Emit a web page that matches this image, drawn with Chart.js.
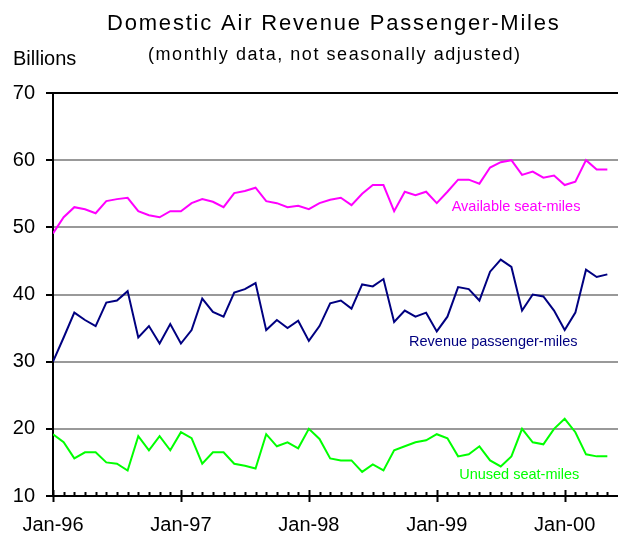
<!DOCTYPE html>
<html>
<head>
<meta charset="utf-8">
<title>Domestic Air Revenue Passenger-Miles</title>
<script src="https://cdn.jsdelivr.net/npm/chart.js@4.4.1/dist/chart.umd.min.js"></script>
<style>
    html, body { margin: 0; padding: 0; background: #fff; }
    #wrap { width: 618px; height: 537px; position: relative; }
</style>
</head>
<body>
<div id="wrap"><canvas id="rpmChart"></canvas></div>
<script>
// ─── Data (billions, monthly, Jan-96 .. May-00) ─────────────────────────────
const months = [
    'Jan-96', 'Feb-96', 'Mar-96', 'Apr-96', 'May-96', 'Jun-96', 'Jul-96', 'Aug-96', 'Sep-96', 'Oct-96', 'Nov-96', 'Dec-96',
    'Jan-97', 'Feb-97', 'Mar-97', 'Apr-97', 'May-97', 'Jun-97', 'Jul-97', 'Aug-97', 'Sep-97', 'Oct-97', 'Nov-97', 'Dec-97',
    'Jan-98', 'Feb-98', 'Mar-98', 'Apr-98', 'May-98', 'Jun-98', 'Jul-98', 'Aug-98', 'Sep-98', 'Oct-98', 'Nov-98', 'Dec-98',
    'Jan-99', 'Feb-99', 'Mar-99', 'Apr-99', 'May-99', 'Jun-99', 'Jul-99', 'Aug-99', 'Sep-99', 'Oct-99', 'Nov-99', 'Dec-99',
    'Jan-00', 'Feb-00', 'Mar-00', 'Apr-00', 'May-00'
];

const available = [
    49.1, 51.5, 53.0, 52.7, 52.1, 53.9, 54.2, 54.4, 52.4, 51.8, 51.5, 52.4,
    52.4, 53.6, 54.2, 53.8, 53.0, 55.1, 55.4, 55.9, 53.9, 53.6, 53.0, 53.2,
    52.7, 53.6, 54.1, 54.4, 53.3, 55.0, 56.3, 56.3, 52.4, 55.3, 54.8, 55.3,
    53.6, 55.3, 57.1, 57.1, 56.5, 58.9, 59.7, 60.0, 57.8, 58.3, 57.4, 57.7,
    56.3, 56.8, 60.0, 58.6, 58.6
];

const revenue = [
    30.0, 33.6, 37.3, 36.2, 35.3, 38.8, 39.1, 40.5, 33.6, 35.3, 32.7, 35.6,
    32.7, 34.7, 39.4, 37.4, 36.7, 40.3, 40.8, 41.7, 34.7, 36.2, 35.0, 36.1,
    33.1, 35.3, 38.7, 39.1, 37.9, 41.5, 41.2, 42.3, 35.9, 37.6, 36.7, 37.3,
    34.5, 36.7, 41.1, 40.8, 39.1, 43.4, 45.2, 44.1, 37.6, 40.0, 39.7, 37.6,
    34.7, 37.3, 43.7, 42.6, 43.0
];

const unused = [
    19.2, 18.0, 15.6, 16.5, 16.5, 15.0, 14.8, 13.8, 18.9, 16.8, 18.9, 16.8,
    19.5, 18.6, 14.8, 16.5, 16.5, 14.8, 14.5, 14.1, 19.2, 17.4, 18.0, 17.1,
    20.0, 18.5, 15.6, 15.3, 15.3, 13.6, 14.7, 13.8, 16.8, 17.4, 18.0, 18.3,
    19.2, 18.6, 15.9, 16.2, 17.4, 15.3, 14.4, 15.9, 20.0, 18.0, 17.7, 20.0,
    21.5, 19.5, 16.2, 15.9, 15.9
];

const xTickLabels = ['Jan-96', 'Jan-97', 'Jan-98', 'Jan-99', 'Jan-00'];

// inline series labels, anchored in data space (month index, value)
const seriesLabels = [
    { text: 'Available seat-miles', month: 37.4, value: 52.5, color: '#ff00ff' },
    { text: 'Revenue passenger-miles', month: 33.4, value: 32.4, color: '#000080' },
    { text: 'Unused seat-miles', month: 38.1, value: 12.5, color: '#00ff00' }
];

const FONT = '"Liberation Sans", Arial, sans-serif';

function toPoints(values) {
    return values.map(function (v, i) { return { x: i, y: v }; });
}

// ─── Titles, x tick marks and inline labels ─────────────────────────────────
const decorations = {
    id: 'decorations',
    afterDraw: function (chart) {
        const ctx = chart.ctx;
        const area = chart.chartArea;
        const x = chart.scales.x;
        const y = chart.scales.y;
        ctx.save();

        // month ticks: Januaries cross the axis, other months point inward
        ctx.strokeStyle = '#000';
        ctx.lineWidth = 2;
        months.forEach(function (m, i) {
            const px = Math.round(x.getPixelForValue(i)) + 0.5;
            ctx.beginPath();
            if (m.indexOf('Jan') === 0) {
                ctx.moveTo(px, area.bottom - 6);
                ctx.lineTo(px, area.bottom + 6);
            } else {
                ctx.moveTo(px, area.bottom - 4);
                ctx.lineTo(px, area.bottom);
            }
            ctx.stroke();
        });

        // titles
        ctx.fillStyle = '#000';
        ctx.textAlign = 'left';
        ctx.textBaseline = 'alphabetic';
        ctx.letterSpacing = '1.8px';
        ctx.font = '22px ' + FONT;
        ctx.fillText('Domestic Air Revenue Passenger-Miles', 107, 30);
        ctx.letterSpacing = '1.55px';
        ctx.font = '18px ' + FONT;
        ctx.fillText('(monthly data, not seasonally adjusted)', 148, 60);
        ctx.letterSpacing = '0px';
        ctx.font = '20px ' + FONT;
        ctx.fillText('Billions', 13, 65);

        // series labels
        ctx.font = '14.5px ' + FONT;
        seriesLabels.forEach(function (l) {
            ctx.fillStyle = l.color;
            ctx.fillText(l.text, x.getPixelForValue(l.month), y.getPixelForValue(l.value));
        });
        ctx.restore();
    }
};

const lineStyle = { borderWidth: 2, pointRadius: 0, tension: 0, fill: false };

new Chart(document.getElementById('rpmChart'), {
    type: 'line',
    data: {
        datasets: [
            Object.assign({ label: 'Available seat-miles', data: toPoints(available), borderColor: '#ff00ff' }, lineStyle),
            Object.assign({ label: 'Revenue passenger-miles', data: toPoints(revenue), borderColor: '#000080' }, lineStyle),
            Object.assign({ label: 'Unused seat-miles', data: toPoints(unused), borderColor: '#00ff00' }, lineStyle)
        ]
    },
    options: {
        responsive: true,
        maintainAspectRatio: false,
        animation: false,
        layout: { padding: { top: 93, right: 0, bottom: 0, left: 0 } },
        plugins: {
            legend: { display: false },
            tooltip: { enabled: false },
            title: { display: false }
        },
        scales: {
            x: {
                type: 'linear',
                min: 0,
                max: months.length,
                afterBuildTicks: function (scale) {
                    scale.ticks = xTickLabels.map(function (t) { return { value: months.indexOf(t) }; });
                },
                afterFit: function (scale) { scale.height = 41; },
                ticks: {
                    autoSkip: false,
                    maxRotation: 0,
                    padding: 17,
                    color: '#000',
                    font: { family: FONT, size: 20 },
                    callback: function (v) { return months[v]; }
                },
                grid: { display: false, drawTicks: false },
                border: { display: true, color: '#000', width: 2 }
            },
            y: {
                min: 10,
                max: 70,
                afterFit: function (scale) { scale.width = 53; },
                ticks: {
                    stepSize: 10,
                    padding: 11,
                    color: '#000',
                    font: { family: FONT, size: 20 }
                },
                grid: {
                    color: function (c) { return c.tick && c.tick.value === 70 ? '#000' : '#999'; },
                    lineWidth: 2,
                    tickLength: 7,
                    tickColor: '#000'
                },
                border: { display: true, color: '#000', width: 2 }
            }
        }
    },
    plugins: [decorations]
});
</script>
</body>
</html>
